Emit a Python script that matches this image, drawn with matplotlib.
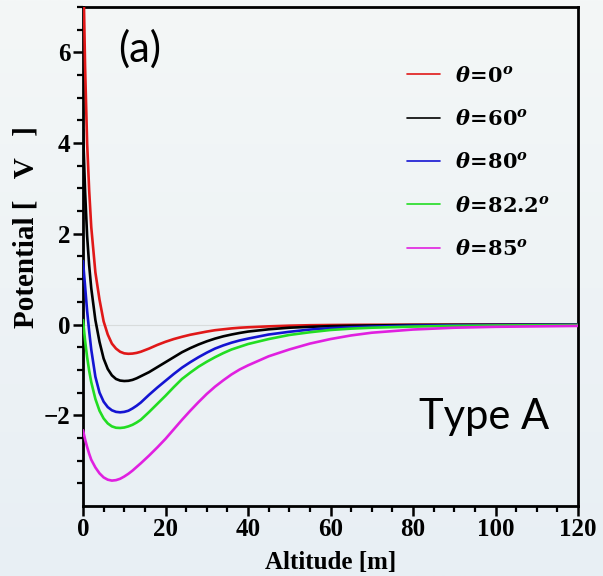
import numpy as np
import matplotlib
matplotlib.use("Agg")
import matplotlib.pyplot as plt
from matplotlib.colors import LinearSegmentedColormap

# Altitude samples [m]
altitude = [0, 0.5, 1, 1.5, 2, 3, 4, 5, 6, 7, 8, 9, 10, 11, 12, 13, 14, 16, 18, 20,
            22, 24, 26, 28, 30, 32, 34, 36, 38, 40, 45, 50, 55, 60, 65, 70,
            80, 90, 100, 110, 120]

# Potential [V] for each inclination angle
pot_0 = [8.2, 5.7, 4.0, 2.95, 2.15, 1.15, 0.55, 0.07, -0.22, -0.42, -0.53, -0.60,
         -0.635, -0.645, -0.64, -0.625, -0.60, -0.53, -0.45, -0.38,
         -0.32, -0.27, -0.225, -0.19, -0.155, -0.125, -0.105, -0.085, -0.07, -0.06,
         -0.04, -0.025, -0.015, -0.01, -0.007, -0.005,
         -0.003, -0.002, -0.001, -0.001, 0.0]
pot_60 = [4.3, 2.95, 1.95, 1.3, 0.8, 0.1, -0.38, -0.75, -0.98, -1.12, -1.2, -1.235,
          -1.245, -1.24, -1.22, -1.185, -1.14, -1.05, -0.94, -0.83,
          -0.72, -0.61, -0.52, -0.44, -0.37, -0.31, -0.26, -0.22, -0.185, -0.155,
          -0.105, -0.07, -0.05, -0.035, -0.026, -0.02,
          -0.01, -0.006, -0.004, -0.003, -0.002]
pot_80 = [1.4, 0.85, 0.3, -0.15, -0.55, -1.15, -1.5, -1.7, -1.82, -1.89, -1.925, -1.935,
          -1.925, -1.9, -1.85, -1.79, -1.72, -1.55, -1.39, -1.24,
          -1.09, -0.95, -0.83, -0.72, -0.62, -0.53, -0.46, -0.40, -0.35, -0.31,
          -0.22, -0.16, -0.11, -0.08, -0.06, -0.045,
          -0.025, -0.015, -0.01, -0.007, -0.005]
pot_822 = [0.1, -0.35, -0.72, -1.02, -1.27, -1.64, -1.9, -2.07, -2.18, -2.245, -2.275, -2.28,
           -2.27, -2.245, -2.21, -2.16, -2.1, -1.93, -1.75, -1.57,
           -1.38, -1.2, -1.06, -0.93, -0.82, -0.72, -0.63, -0.55, -0.49, -0.43,
           -0.32, -0.23, -0.17, -0.12, -0.09, -0.07,
           -0.045, -0.03, -0.02, -0.015, -0.01]
pot_85 = [-2.33, -2.53, -2.7, -2.85, -2.98, -3.15, -3.28, -3.37, -3.42, -3.44, -3.43, -3.40,
          -3.35, -3.29, -3.22, -3.14, -3.06, -2.89, -2.71, -2.52,
          -2.31, -2.1, -1.9, -1.71, -1.53, -1.37, -1.23, -1.1, -0.99, -0.9,
          -0.7, -0.55, -0.42, -0.32, -0.24, -0.18,
          -0.11, -0.07, -0.05, -0.04, -0.03]

series = [pot_0, pot_60, pot_80, pot_822, pot_85]
angles = ['0', '60', '80', '82.2', '85']
colors = ['#e01818', '#000000', '#1414d2', '#22dd22', '#e020e0']

xticks = [0, 20, 40, 60, 80, 100, 120]
yticks = [-2, 0, 2, 4, 6]
ytick_labels = ['\u22122', '0', '2', '4', '6']

plt.rcParams['mathtext.fontset'] = 'dejavuserif'
serif = 'Liberation Serif'

fig = plt.figure(figsize=(6.03, 5.76), dpi=100)

# soft vertical gradient behind everything
bg = fig.add_axes([0, 0, 1, 1], zorder=-10)
grad = np.linspace(0, 1, 256).reshape(-1, 1)
cmap = LinearSegmentedColormap.from_list('bg', ['#f4f7f7', '#e8eff4'])
bg.imshow(grad, aspect='auto', cmap=cmap, extent=[0, 1, 0, 1])
bg.set_axis_off()

ax = fig.add_axes([83 / 603, 1 - 506 / 576, (578 - 83) / 603, (506 - 7) / 576])
ax.set_facecolor('none')

ax.axhline(0, color='#d8dcdc', lw=0.8, zorder=1)
for y, a, c in zip(series, angles, colors):
    lab = r'$\boldsymbol{\theta}\!\mathbf{=}\!\mathbf{' + a + r'}^{\boldsymbol{o}}$'
    ax.plot(altitude, y, color=c, lw=1.9, label=lab, zorder=3,
            solid_capstyle='round', solid_joinstyle='round')

ax.set_xlim(0, 120)
ax.set_ylim(-4, 7)
ax.set_xticks(xticks)
ax.set_yticks(yticks)
ax.set_xticks(np.arange(0, 121, 5), minor=True)
ax.set_yticks(np.arange(-3.5, 7.01, 0.5), minor=True)
ax.set_yticklabels(ytick_labels)

for s in ax.spines.values():
    s.set_linewidth(2.0)
ax.tick_params(which='major', direction='out', length=7, width=1.8, pad=2)
ax.tick_params(which='minor', direction='out', length=4, width=1.6)
for t in ax.get_xticklabels() + ax.get_yticklabels():
    t.set_fontfamily(serif)
    t.set_fontweight('bold')
    t.set_fontsize(18)

ax.set_xlabel('Altitude [m]', fontfamily=serif, fontweight='bold', fontsize=18, labelpad=7)
ax.set_ylabel('Potential [   V   ]', fontfamily=serif, fontweight='bold', fontsize=21)
ax.yaxis.set_label_coords(-0.087, 0.558)

leg = ax.legend(loc='upper right', frameon=False, fontsize=15, handlelength=1.6,
                handletextpad=0.7, labelspacing=1.12, bbox_to_anchor=(0.98, 0.92))
for l in leg.get_lines():
    l.set_linewidth(1.2)

ax.text(13.8, 6.07, '(a)', fontfamily='Lato', fontsize=30, ha='center', va='center')
ax.text(97.2, -2.03, 'Type A', fontfamily='Lato', fontsize=30, ha='center', va='center')

fig.savefig('out.png', dpi=100)
